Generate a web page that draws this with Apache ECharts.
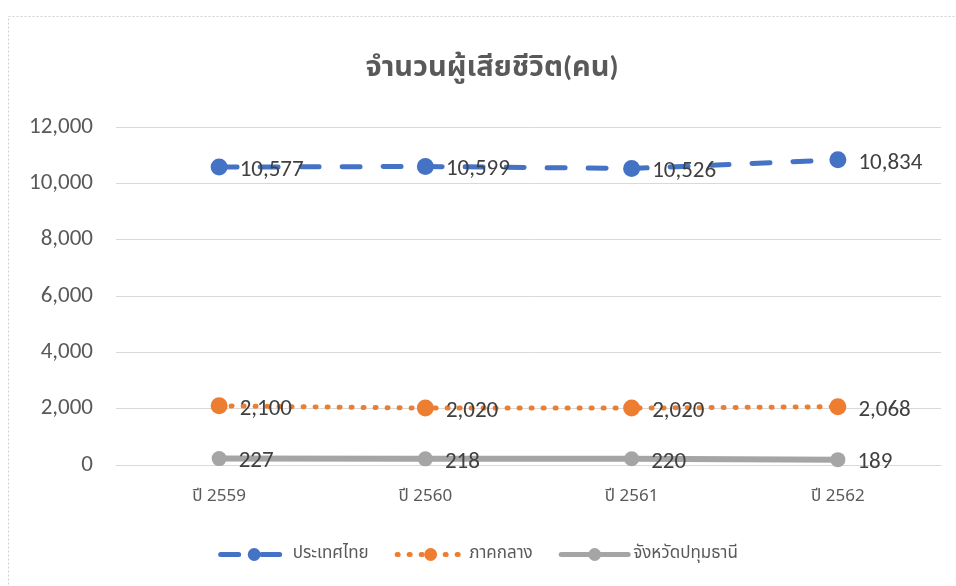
<!DOCTYPE html>
<html><head><meta charset="utf-8">
<script src="https://cdn.jsdelivr.net/npm/echarts@6/dist/echarts.min.js"></script>
<style>html,body{margin:0;padding:0;background:#fff}#c{width:956px;height:586px}</style>
</head><body><div id="c"></div>
<script>
const categories = ['ปี 2559', 'ปี 2560', 'ปี 2561', 'ปี 2562'];
const thailand = [10577, 10599, 10526, 10834];
const central = [2100, 2020, 2020, 2068];
const pathumThani = [227, 218, 220, 189];
const seriesNames = ['ประเทศไทย', 'ภาคกลาง', 'จังหวัดปทุมธานี'];
const yTicks = [0, 2000, 4000, 6000, 8000, 10000, 12000];

const FONT = 'Calibri, Carlito, "Noto Sans Thai", "Noto Sans", "DejaVu Sans", sans-serif';
const NARROW = '"Liberation Sans Narrow", "Arial Narrow", "Noto Sans Thai", sans-serif';
const COLORS = ['#4472C4', '#ED7D31', '#A5A5A5'];
const DASHES = [[18, 23], [1, 11], 'solid'];
const chart = echarts.init(document.getElementById('c'));
const lbl = {show: true, position: 'right', distance: 12, offset: [0, 3], color: '#404040', fontSize: 23, fontFamily: FONT,
  formatter: p => p.value.toLocaleString('en-US')};
function mk(name, data, color, type, width, size) {
  return {name, type: 'line', data, symbol: 'circle', symbolSize: size,
    lineStyle: {color, width, type, cap: 'round'}, itemStyle: {color},
    label: lbl, z: 3, animation: false};
}
chart.setOption({
  animation: false,
  title: {text: 'จำนวนผู้เสียชีวิต(คน)', left: 487, textAlign: 'center', top: 49,
    textStyle: {fontSize: 29, fontWeight: 'bold', color: '#595959', fontFamily: FONT}},
  graphic: [{type: 'rect', shape: {x: 8.5, y: 16.5, width: 1000, height: 1000},
    style: {fill: 'none', stroke: '#D0D0D0', lineWidth: 1, lineDash: [2, 2]}, silent: true}],
  legend: {bottom: 18, left: 'center', itemWidth: 67, itemHeight: 16, itemGap: 26,
    textStyle: {fontSize: 17, color: '#595959', fontFamily: NARROW},
    data: seriesNames.map((n, i) => ({name: n, lineStyle: {width: 5, color: COLORS[i], type: DASHES[i], cap: 'round'}}))},
  grid: {left: 116, right: 15, top: 127, bottom: 121},
  xAxis: {type: 'category', data: categories, boundaryGap: true,
    axisLine: {lineStyle: {color: '#D9D9D9'}}, axisTick: {show: false},
    axisLabel: {color: '#595959', fontSize: 17, margin: 24, fontFamily: NARROW}},
  yAxis: {type: 'value', min: yTicks[0], max: yTicks[yTicks.length - 1], interval: 2000,
    axisLine: {show: false}, axisTick: {show: false},
    splitLine: {lineStyle: {color: '#D9D9D9', width: 1}},
    axisLabel: {color: '#595959', fontSize: 23, margin: 23, fontFamily: FONT,
      formatter: v => v.toLocaleString('en-US')}},
  series: [
    mk(seriesNames[0], thailand, COLORS[0], DASHES[0], 5, 17),
    mk(seriesNames[1], central, COLORS[1], DASHES[1], 5, 17),
    mk(seriesNames[2], pathumThani, COLORS[2], DASHES[2], 6, 15)
  ]
});
</script></body></html>
